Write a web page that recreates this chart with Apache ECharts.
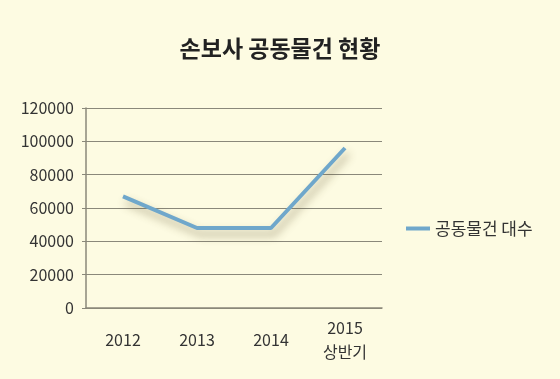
<!DOCTYPE html>
<html><head><meta charset="utf-8">
<script src="https://cdn.jsdelivr.net/npm/echarts@6/dist/echarts.min.js"></script>
<style>html,body{margin:0;padding:0;background:#fdfbe2;}#c{width:560px;height:379px;}</style>
</head><body><div id="c"></div>
<script>
const categories = ['2012', '2013', '2014', '2015\n상반기'];
const seriesName = '공동물건 대수';
const values = [67000, 48000, 48000, 96000];
const titleText = '손보사 공동물건 현황';

const font = '"Noto Sans CJK KR", "Noto Sans", sans-serif';
const chart = echarts.init(document.getElementById('c'));
chart.setOption({
  backgroundColor: '#fdfbe2',
  animation: false,
  title: {text: titleText, left: 'center', top: 32,
    textStyle: {fontFamily: font, fontSize: 23, fontWeight: 'bold', color: '#222'}},
  legend: {orient: 'vertical', left: 401, top: 215, itemWidth: 24, itemHeight: 4, itemGap: 6,
    icon: 'rect', textStyle: {fontFamily: font, fontSize: 17, color: '#333'},
    data: [seriesName]},
  grid: {left: 86, top: 108, width: 296, height: 200, containLabel: false},
  xAxis: {type: 'category', data: categories, boundaryGap: true,
    axisLine: {lineStyle: {color: '#8a887a', width: 1.5}},
    axisTick: {show: false},
    axisLabel: {fontFamily: font, fontSize: 16, color: '#333', margin: 32, lineHeight: 24, verticalAlign: 'middle'}},
  yAxis: {type: 'value', min: 0, max: 120000, interval: 20000,
    axisLine: {show: true, lineStyle: {color: '#8a887a', width: 1.5}},
    axisTick: {show: true, length: 4, lineStyle: {color: '#8a887a'}},
    splitLine: {lineStyle: {color: '#8a887a', width: 1.2}},
    axisLabel: {fontFamily: font, fontSize: 16, color: '#333', margin: 12,
      formatter: function (v) { return String(v); }}},
  series: [{name: seriesName, type: 'line', data: values, symbol: 'none',
    itemStyle: {color: '#6fa7cb'},
    lineStyle: {color: '#6fa7cb', width: 4, shadowColor: 'rgba(90,80,40,0.45)', shadowBlur: 9, shadowOffsetX: 3, shadowOffsetY: 6}}]
});
</script></body></html>
